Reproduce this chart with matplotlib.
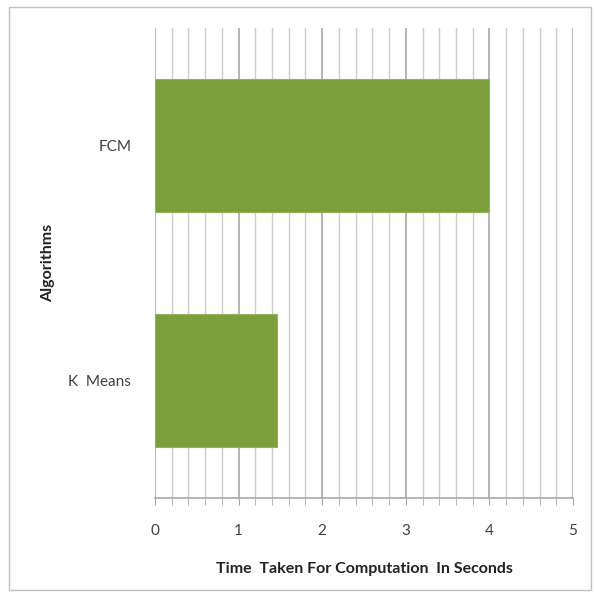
import matplotlib
matplotlib.use("Agg")
from matplotlib import pyplot as plt
from matplotlib.patches import Rectangle
import numpy as np

plt.rcParams["font.family"] = ["Lato", "DejaVu Sans"]

algorithms = ["K  Means", "FCM"]
times = [1.455, 4.0]
x_ticks = [0, 1, 2, 3, 4, 5]

fig = plt.figure(figsize=(5.97, 5.95), dpi=100)
ax = fig.add_axes([0.2596, 0.163, 0.7002, 0.7899])

ypos = np.arange(len(algorithms))
ax.barh(ypos, times, height=0.57, color="#7a9f3b", edgecolor="#8fb356", linewidth=0.8, zorder=3)

ax.set_xlim(0, 5)
ax.set_ylim(-0.5, 1.5)
ax.set_xticks(x_ticks)
ax.set_xticks(np.arange(0, 5.01, 0.2), minor=True)
ax.set_yticks(ypos)
ax.set_yticklabels(algorithms)

ax.grid(axis="x", which="major", color="#a8a8a8", linewidth=1.2, zorder=0)
ax.grid(axis="x", which="minor", color="#cccccc", linewidth=1.0, zorder=0)

for s in ["top", "right", "left"]:
    ax.spines[s].set_visible(False)
ax.spines["bottom"].set_color("#a8a8a8")
ax.spines["bottom"].set_linewidth(1.2)

ax.tick_params(axis="x", which="both", length=5, color="#a8a8a8", direction="out", pad=14,
               labelsize=11, labelcolor="#404040")
ax.tick_params(axis="y", length=0, pad=17, labelsize=11, labelcolor="#404040")

ax.set_xlabel("Time  Taken For Computation  In Seconds", fontsize=11.5, fontweight="bold",
              color="#222222", labelpad=17)
ax.set_ylabel("Algorithms", fontsize=11.5, fontweight="bold", color="#222222", labelpad=10)

fig.patches.append(Rectangle((0.015, 0.008), 0.975, 0.98, transform=fig.transFigure,
                             fill=False, edgecolor="#c0c0c0", linewidth=1.0))

fig.savefig("out.png", dpi=100)
